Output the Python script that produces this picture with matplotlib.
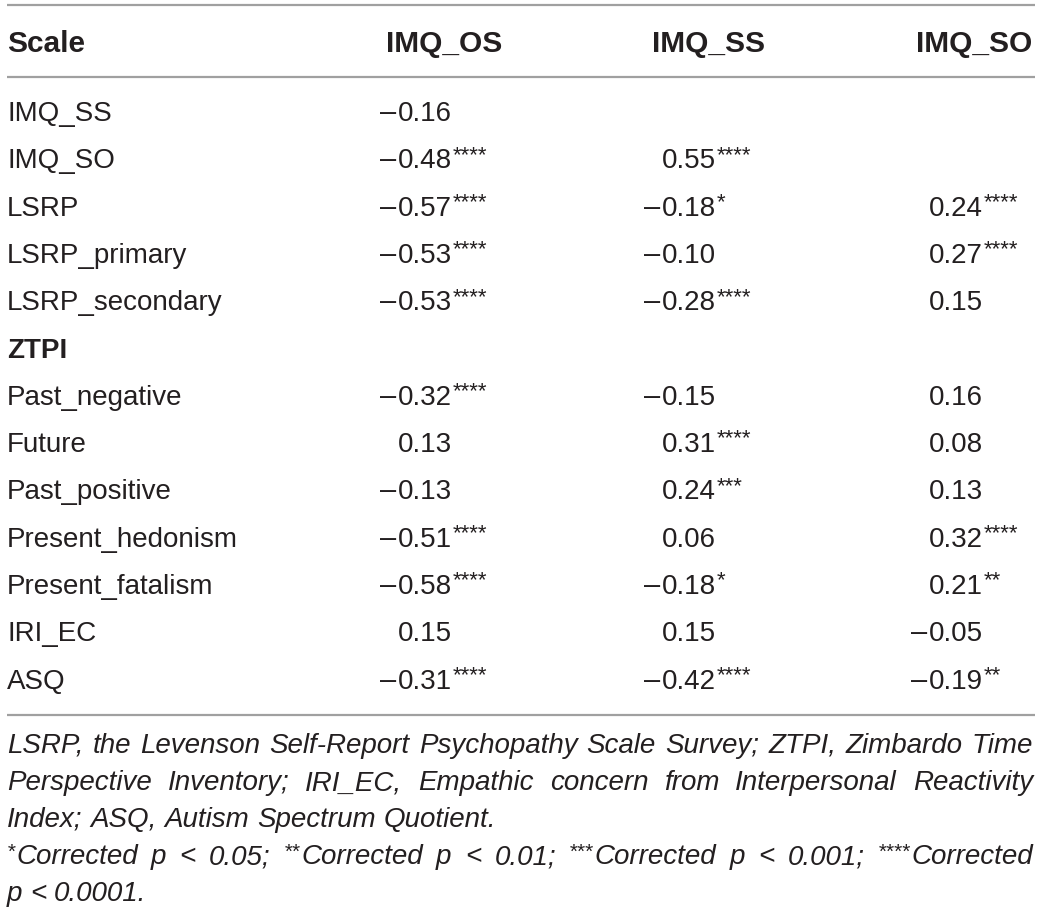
import matplotlib
matplotlib.use("Agg")
import matplotlib.pyplot as plt

# table content
scales = ["IMQ_SS", "IMQ_SO", "LSRP", "LSRP_primary", "LSRP_secondary", "ZTPI",
          "Past_negative", "Future", "Past_positive", "Present_hedonism",
          "Present_fatalism", "IRI_EC", "ASQ"]
bold_rows = ["ZTPI"]
columns = ["IMQ_OS", "IMQ_SS", "IMQ_SO"]

imq_os_r = [-0.16, -0.48, -0.57, -0.53, -0.53, None, -0.32, 0.13, -0.13, -0.51, -0.58, 0.15, -0.31]
imq_os_sig = ["", "****", "****", "****", "****", "", "****", "", "", "****", "****", "", "****"]
imq_ss_r = [None, 0.55, -0.18, -0.10, -0.28, None, -0.15, 0.31, 0.24, 0.06, -0.18, 0.15, -0.42]
imq_ss_sig = ["", "****", "*", "", "****", "", "", "****", "***", "", "*", "", "****"]
imq_so_r = [None, None, 0.24, 0.27, 0.15, None, 0.16, 0.08, 0.13, 0.32, 0.21, -0.05, -0.19]
imq_so_sig = ["", "", "****", "****", "", "", "", "", "", "****", "**", "", "**"]

footnote_lines = [
    "LSRP, the Levenson Self-Report Psychopathy Scale Survey; ZTPI, Zimbardo Time",
    "Perspective Inventory; IRI_EC, Empathic concern from Interpersonal Reactivity",
    "Index; ASQ, Autism Spectrum Quotient.",
    "*Corrected p < 0.05; **Corrected p < 0.01; ***Corrected p < 0.001; ****Corrected",
    "p < 0.0001.",
]
justified = [True, True, False, True, False]

# layout (pixels)
W, H = 1042, 914
FONT = "Liberation Sans"
FS = 20
HFS = 21.5
NFS = 20
INK = "#231f20"
LINE = "#a0a0a0"
left_x, right_x = 7, 1035
header_y = 52
row0_y, row_step = 121, 47.3
digit_x = [398, 662, 929]
header_right = [502, 765, 1032]
foot_y = [753, 790, 827, 864, 901]

fig = plt.figure(figsize=(W / 100, H / 100), dpi=100)
ax = fig.add_axes([0, 0, 1, 1])
ax.set_xlim(0, W)
ax.set_ylim(H, 0)
ax.axis("off")
renderer = fig.canvas.get_renderer()

# rules
for y in [5, 77, 715]:
    ax.plot([left_x, right_x], [y, y], color=LINE, lw=1.6, solid_capstyle="butt")

# header
ax.text(left_x, header_y, "Scale", fontsize=HFS, fontweight="bold", family=FONT,
        color=INK, ha="left", va="baseline")
for name, xr in zip(columns, header_right):
    ax.text(xr, header_y, name, fontsize=HFS, fontweight="bold", family=FONT,
            color=INK, ha="right", va="baseline")

# rows
for i, s in enumerate(scales):
    y = row0_y + i * row_step
    ax.text(left_x, y, s, fontsize=FS, family=FONT, color=INK, ha="left", va="baseline",
            fontweight="bold" if s in bold_rows else "normal")
    for col, (vals, sigs) in enumerate([(imq_os_r, imq_os_sig), (imq_ss_r, imq_ss_sig),
                                         (imq_so_r, imq_so_sig)]):
        v = vals[i]
        if v is None:
            continue
        dx = digit_x[col]
        if v < 0:
            ax.text(dx - 2, y, "\u2013", fontsize=FS + 1, family=FONT, color=INK,
                    ha="right", va="baseline")
        num = ax.text(dx, y, f"{abs(v):.2f}", fontsize=FS, family=FONT, color=INK,
                      ha="left", va="baseline")
        if sigs[i]:
            ax.annotate(sigs[i], xy=(1, 1), xycoords=num, xytext=(0.5, 2.5),
                        textcoords="offset points", fontsize=16, family=FONT,
                        color=INK, ha="left", va="top")


def draw_word(x, y, word, measure_only=False):
    # leading asterisks are superscript
    stars = word[: len(word) - len(word.lstrip("*"))]
    rest = word[len(stars):]
    w = 0
    if stars:
        t = ax.text(x, y - 6, stars, fontsize=15, family=FONT, style="italic",
                    color=INK, ha="left", va="baseline")
        w += t.get_window_extent(renderer).width + 1
        if measure_only:
            t.remove()
    t = ax.text(x + w, y, rest, fontsize=NFS, family=FONT, style="italic",
                color=INK, ha="left", va="baseline")
    w += t.get_window_extent(renderer).width
    if measure_only:
        t.remove()
    return w


space = 0.278 * NFS * 100 / 72
for line, y, just in zip(footnote_lines, foot_y, justified):
    words = line.split(" ")
    widths = [draw_word(0, y, w_, measure_only=True) for w_ in words]
    if just and len(words) > 1:
        gap = (right_x - 2 - left_x - sum(widths)) / (len(words) - 1)
    else:
        gap = space
    x = left_x
    for w_, wd in zip(words, widths):
        draw_word(x, y, w_)
        x += wd + gap

fig.savefig("out.png", dpi=100)
